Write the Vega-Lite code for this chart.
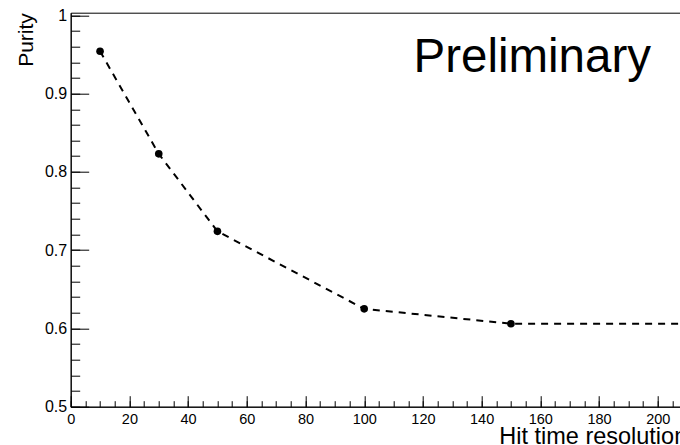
{
  "$schema": "https://vega.github.io/schema/vega-lite/v6.json",
  "width": 660.4,
  "height": 394,
  "autosize": {"type": "none"},
  "padding": {"left": 70.7, "top": 12.7, "right": -51, "bottom": 38.3},
  "background": "white",
  "config": {
    "view": {"stroke": "black", "strokeWidth": 1},
    "font": "Liberation Sans",
    "axis": {
      "grid": false,
      "domainColor": "black",
      "domainWidth": 1,
      "tickColor": "black",
      "tickWidth": 1,
      "labelColor": "black",
      "titleColor": "black",
      "labelFont": "Liberation Sans",
      "titleFont": "Liberation Sans",
      "titleFontWeight": "normal",
      "labelOverlap": false,
      "labelFlush": false
    }
  },
  "datasets": {
    "purity": [
      {"res": 10, "purity": 0.954},
      {"res": 30, "purity": 0.823},
      {"res": 50, "purity": 0.724},
      {"res": 100, "purity": 0.625},
      {"res": 150, "purity": 0.606},
      {"res": 250, "purity": 0.606}
    ],
    "note": [
      {"res": 116.8, "purity": 0.928, "label": "Preliminary"}
    ]
  },
  "layer": [
    {
      "data": {"name": "purity"},
      "mark": {"type": "line", "color": "black", "strokeWidth": 2, "strokeDash": [7, 6], "clip": true},
      "encoding": {
        "x": {
          "field": "res",
          "type": "quantitative",
          "scale": {"domain": [0, 225], "nice": false, "zero": false},
          "axis": {
            "orient": "bottom",
            "values": [0, 20, 40, 60, 80, 100, 120, 140, 160, 180, 200, 220],
            "tickSize": -11,
            "labelPadding": 17,
            "labelFontSize": 14.5,
            "title": "Hit time resolution [ps]",
            "titleAnchor": "end",
            "titleFontSize": 23.5,
            "titlePadding": -2
          }
        },
        "y": {
          "field": "purity",
          "type": "quantitative",
          "scale": {"domain": [0.5, 1.0033], "nice": false, "zero": false},
          "axis": {
            "orient": "left",
            "values": [0.5, 0.6, 0.7, 0.8, 0.9, 1.0],
            "format": "~g",
            "tickSize": -18,
            "labelPadding": 22,
            "labelFontSize": 16,
            "title": "Purity",
            "titleAnchor": "end",
            "titleFontSize": 21,
            "titlePadding": 8
          }
        }
      }
    },
    {
      "data": {"name": "purity"},
      "mark": {"type": "point", "filled": true, "color": "black", "opacity": 1, "size": 58, "clip": true},
      "encoding": {
        "x": {
          "field": "res",
          "type": "quantitative",
          "axis": {
            "orient": "bottom",
            "values": [0, 5, 10, 15, 20, 25, 30, 35, 40, 45, 50, 55, 60, 65, 70, 75, 80, 85, 90, 95, 100, 105, 110, 115, 120, 125, 130, 135, 140, 145, 150, 155, 160, 165, 170, 175, 180, 185, 190, 195, 200, 205, 210, 215, 220, 225],
            "tickSize": -6,
            "labels": false,
            "domain": false,
            "title": null
          }
        },
        "y": {
          "field": "purity",
          "type": "quantitative",
          "axis": {
            "orient": "left",
            "values": [0.5, 0.52, 0.54, 0.56, 0.58, 0.6, 0.62, 0.64, 0.66, 0.68, 0.7, 0.72, 0.74, 0.76, 0.78, 0.8, 0.82, 0.84, 0.86, 0.88, 0.9, 0.92, 0.94, 0.96, 0.98, 1.0],
            "tickSize": -9,
            "labels": false,
            "domain": false,
            "title": null
          }
        }
      }
    },
    {
      "data": {"name": "note"},
      "mark": {"type": "text", "align": "left", "baseline": "alphabetic", "fontSize": 47.5, "font": "Liberation Sans", "color": "black"},
      "encoding": {
        "x": {"field": "res", "type": "quantitative", "axis": null},
        "y": {"field": "purity", "type": "quantitative", "axis": null},
        "text": {"field": "label"}
      }
    }
  ],
  "resolve": {"axis": {"x": "independent", "y": "independent"}}
}
